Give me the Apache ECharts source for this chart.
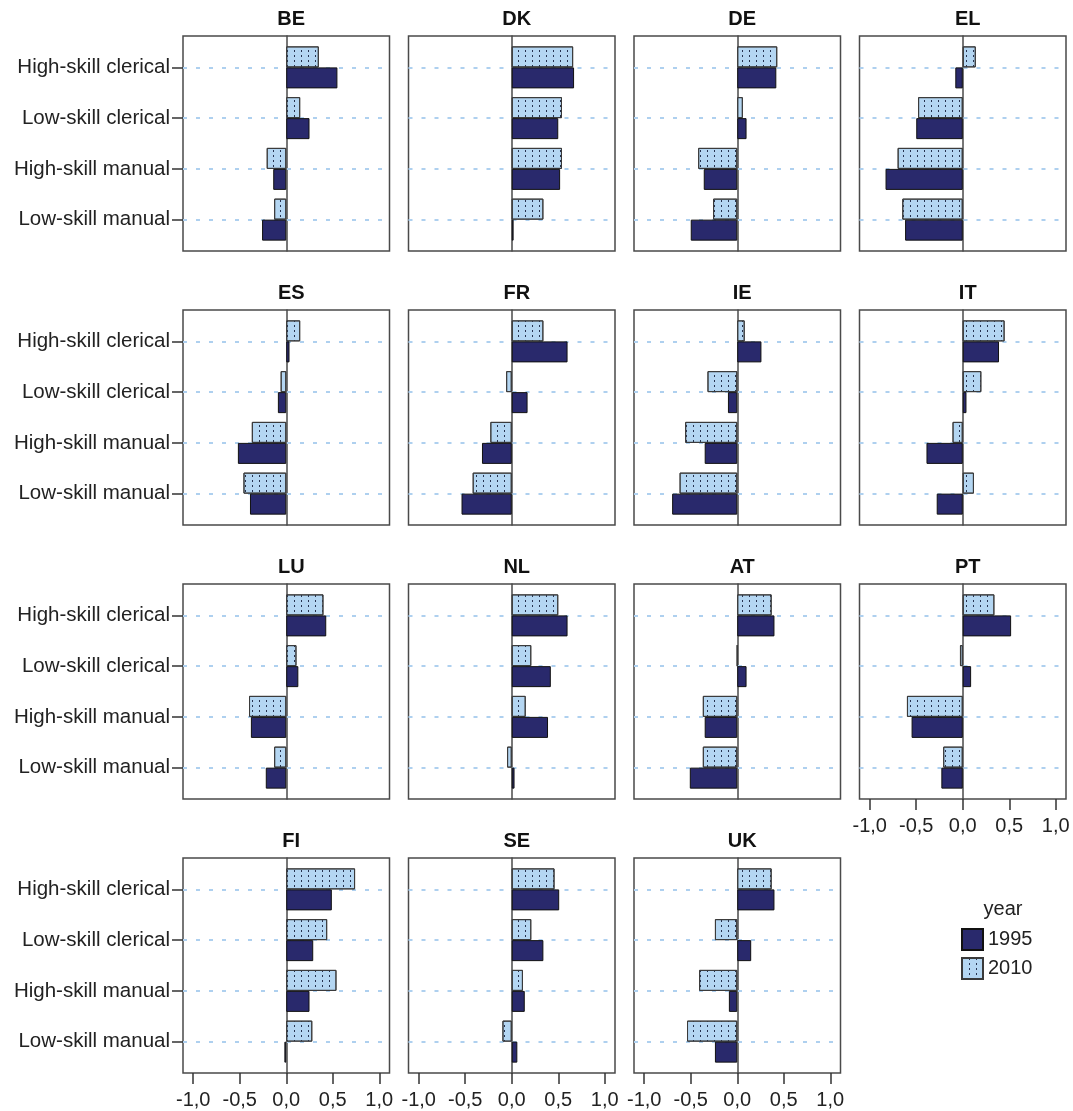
<!DOCTYPE html>
<html>
<head>
<meta charset="utf-8">
<script src="https://cdn.jsdelivr.net/npm/echarts@6/dist/echarts.min.js"></script>
<style>
  html, body { margin: 0; padding: 0; background: #fff; }
  #chart { width: 1073px; height: 1111px; }
</style>
</head>
<body>
<div id="chart"></div>
<script>
// Occupation groups (top to bottom in every panel)
const occupations = ['High-skill clerical', 'Low-skill clerical', 'High-skill manual', 'Low-skill manual'];
const countries = ['BE', 'DK', 'DE', 'EL', 'ES', 'FR', 'IE', 'IT', 'LU', 'NL', 'AT', 'PT', 'FI', 'SE', 'UK'];
const years = ['1995', '2010'];
const xTicks = [-1, -0.5, 0, 0.5, 1];

// Values per country, in the order of `occupations`
const BE_1995 = [0.55, 0.25, -0.14, -0.26];
const BE_2010 = [0.35, 0.15, -0.21, -0.13];
const DK_1995 = [0.67, 0.50, 0.52, 0.02];
const DK_2010 = [0.66, 0.54, 0.54, 0.34];
const DE_1995 = [0.42, 0.10, -0.36, -0.50];
const DE_2010 = [0.43, 0.06, -0.42, -0.26];
const EL_1995 = [-0.08, -0.50, -0.83, -0.62];
const EL_2010 = [0.14, -0.48, -0.70, -0.65];
const ES_1995 = [0.035, -0.09, -0.52, -0.39];
const ES_2010 = [0.15, -0.06, -0.37, -0.46];
const FR_1995 = [0.60, 0.17, -0.32, -0.54];
const FR_2010 = [0.34, -0.06, -0.23, -0.42];
const IE_1995 = [0.26, -0.10, -0.35, -0.70];
const IE_2010 = [0.08, -0.32, -0.56, -0.62];
const IT_1995 = [0.39, 0.04, -0.39, -0.28];
const IT_2010 = [0.45, 0.20, -0.11, 0.12];
const LU_1995 = [0.43, 0.13, -0.38, -0.22];
const LU_2010 = [0.40, 0.11, -0.40, -0.13];
const NL_1995 = [0.60, 0.42, 0.39, 0.03];
const NL_2010 = [0.50, 0.21, 0.15, -0.05];
const AT_1995 = [0.40, 0.10, -0.35, -0.51];
const AT_2010 = [0.37, 0.00, -0.37, -0.37];
const PT_1995 = [0.52, 0.09, -0.55, -0.23];
const PT_2010 = [0.34, -0.03, -0.60, -0.21];
const FI_1995 = [0.49, 0.29, 0.25, -0.02];
const FI_2010 = [0.74, 0.44, 0.54, 0.28];
const SE_1995 = [0.51, 0.34, 0.14, 0.06];
const SE_2010 = [0.46, 0.21, 0.12, -0.10];
const UK_1995 = [0.40, 0.15, -0.09, -0.24];
const UK_2010 = [0.37, -0.24, -0.41, -0.54];

const values1995 = [BE_1995, DK_1995, DE_1995, EL_1995, ES_1995, FR_1995, IE_1995, IT_1995,
                    LU_1995, NL_1995, AT_1995, PT_1995, FI_1995, SE_1995, UK_1995];
const values2010 = [BE_2010, DK_2010, DE_2010, EL_2010, ES_2010, FR_2010, IE_2010, IT_2010,
                    LU_2010, NL_2010, AT_2010, PT_2010, FI_2010, SE_2010, UK_2010];

// Layout of the small-multiple panels
const colLeft = [183, 408.5, 634, 859.5];
const rowTop = [36, 310, 584, 858];
const panelW = 206.5;
const panelH = 215;
const inset = 6;
const xLim = 1.11;

const font = "'Liberation Sans', Arial, sans-serif";
const darkBlue = '#29296c';
const lightBlue = '#b4d6f2';
const frameColor = '#4a4a4a';

const grids = [], xAxes = [], yAxes = [], series = [], titles = [];

countries.forEach((country, i) => {
  const col = i % 4;
  const row = Math.floor(i / 4);
  const left = colLeft[col];
  const top = rowTop[row];
  const showX = i + 4 >= countries.length;
  const showY = col === 0;

  titles.push({
    text: country,
    left: left + panelW / 2,
    top: top - 32,
    textAlign: 'center',
    textStyle: { fontFamily: font, fontSize: 20, fontWeight: 'bold', color: '#111' }
  });

  // Frame grid: border, zero line and value ticks
  const gFrame = grids.length;
  grids.push({
    left, top, width: panelW, height: panelH,
    show: true, borderColor: frameColor, borderWidth: 1.5, backgroundColor: 'transparent'
  });
  xAxes.push({
    gridIndex: gFrame, type: 'value', min: -xLim, max: xLim, position: 'bottom',
    axisLine: { show: false, onZero: false },
    splitLine: { show: false },
    axisTick: { show: showX, customValues: xTicks, length: 11, lineStyle: { color: '#333', width: 1.5 } },
    axisLabel: {
      show: showX, customValues: xTicks, margin: 17,
      fontFamily: font, fontSize: 20, color: '#222',
      formatter: v => v.toFixed(1).replace('.', ',')
    }
  });
  yAxes.push({
    gridIndex: gFrame, type: 'value', min: 0, max: 1,
    axisLine: { show: true, onZero: true, lineStyle: { color: frameColor, width: 1.5 } },
    axisTick: { show: false }, axisLabel: { show: false }, splitLine: { show: false }
  });

  // Bar grid, inset vertically inside the frame
  const gBars = grids.length;
  grids.push({ left, top: top + inset, width: panelW, height: panelH - 2 * inset });
  xAxes.push({ gridIndex: gBars, type: 'value', min: -xLim, max: xLim, show: false });
  yAxes.push({
    gridIndex: gBars, type: 'category', data: occupations, inverse: true, position: 'left',
    axisLine: { show: false, onZero: false },
    axisTick: { show: showY, alignWithLabel: true, length: 11, lineStyle: { color: '#333', width: 1.5 } },
    axisLabel: { show: showY, margin: 13, fontFamily: font, fontSize: 20.5, color: '#222' },
    splitLine: { show: false }
  });

  // Dashed guide lines through the middle of each occupation group
  series.push({
    type: 'line', name: 'guides', xAxisIndex: gBars, yAxisIndex: gBars,
    data: [], silent: true, z: 1,
    markLine: {
      silent: true, symbol: 'none', z: 1, animation: false,
      label: { show: false },
      lineStyle: { color: '#aed0ef', type: [4, 9], width: 2 },
      emphasis: { disabled: true },
      data: occupations.map(o => [{ xAxis: -xLim, yAxis: o }, { xAxis: xLim, yAxis: o }])
    }
  });
  series.push({
    type: 'bar', name: '2010', xAxisIndex: gBars, yAxisIndex: gBars,
    data: values2010[i], barWidth: 21, barGap: '0%', z: 2,
    itemStyle: {
      color: lightBlue, borderColor: '#3a3a3a', borderWidth: 1,
      decal: { symbol: 'rect', symbolSize: 1, color: '#26324f', dashArrayX: [1, 6], dashArrayY: [2, 3], rotation: 0 }
    }
  });
  series.push({
    type: 'bar', name: '1995', xAxisIndex: gBars, yAxisIndex: gBars,
    data: values1995[i], barWidth: 21, barGap: '0%', z: 2,
    itemStyle: { color: darkBlue, borderColor: '#111', borderWidth: 1 }
  });
});

titles.push({
  text: 'year', left: 998, top: 894, textAlign: 'center',
  textStyle: { fontFamily: font, fontSize: 20, fontWeight: 'normal', color: '#222' }
});

const chart = echarts.init(document.getElementById('chart'), null, { renderer: 'canvas' });
chart.setOption({
  animation: false,
  backgroundColor: '#fff',
  title: titles,
  grid: grids,
  xAxis: xAxes,
  yAxis: yAxes,
  legend: {
    data: years, orient: 'vertical', left: 961, top: 928, padding: 0,
    itemWidth: 21, itemHeight: 21, itemGap: 6, icon: 'rect',
    textStyle: { fontFamily: font, fontSize: 20, color: '#222' }
  },
  series
});
</script>
</body>
</html>
